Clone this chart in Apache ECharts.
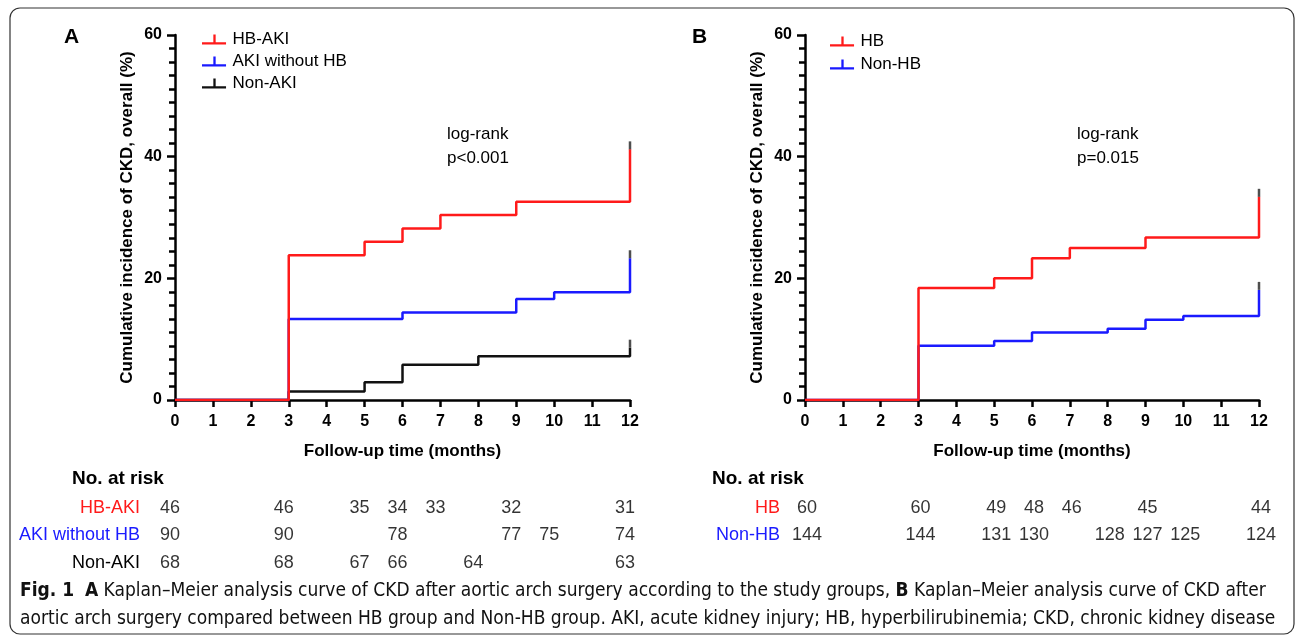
<!DOCTYPE html>
<html>
<head>
<meta charset="utf-8">
<script src="https://cdn.jsdelivr.net/npm/echarts@6/dist/echarts.min.js"></script>
<style>
html,body{margin:0;padding:0;background:#fff;}
#chart{width:1298px;height:636px;}
</style>
</head>
<body>
<div id="chart"></div>
<script>
// ---------- Data ----------
const xTicks = [0,1,2,3,4,5,6,7,8,9,10,11,12];
const yTicks = [0,20,40,60];

// Panel A curves (time in months, cumulative incidence %)
const hbAkiTime = [0,3,5,6,7,9,12];
const hbAkiVal  = [0,23.8,26.0,28.2,30.4,32.6,41.2];
const akiNoHbTime = [0,3,6,9,10,12];
const akiNoHbVal  = [0,13.3,14.4,16.6,17.7,23.3];
const nonAkiTime = [0,3,5,6,8,12];
const nonAkiVal  = [0,1.4,2.9,5.8,7.2,8.6];

// Panel B curves
const hbTime = [0,3,5,6,7,9,12];
const hbVal  = [0,18.4,20.0,23.3,25.0,26.7,33.4];
const nonHbTime = [0,3,5,6,8,9,10,12];
const nonHbVal  = [0,8.9,9.7,11.1,11.7,13.2,13.8,18.1];

// Numbers at risk
const riskHbAkiTime = [0,3,5,6,7,9,12];
const riskHbAki     = [46,46,35,34,33,32,31];
const riskAkiNoHbTime = [0,3,6,9,10,12];
const riskAkiNoHb     = [90,90,78,77,75,74];
const riskNonAkiTime = [0,3,5,6,8,12];
const riskNonAki     = [68,68,67,66,64,63];
const riskHbTime = [0,3,5,6,7,9,12];
const riskHb     = [60,60,49,48,46,45,44];
const riskNonHbTime = [0,3,5,6,8,9,10,12];
const riskNonHb     = [144,144,131,130,128,127,125,124];

const namesA = ['HB-AKI','AKI without HB','Non-AKI'];
const namesB = ['HB','Non-HB'];
// ---------- End data ----------

const RED = '#ff1a1a', BLUE = '#1a1aff', BLACK = '#111111';
const FONT = '"Liberation Sans", Arial, sans-serif';
const CAPFONT = '"DejaVu Sans Condensed", "Liberation Sans Narrow", sans-serif';
const zip = (t, v) => t.map((x, i) => [x, v[i]]);
const last = (t, v) => [[t[t.length-1], v[v.length-1]]];
const risk = (t, v, row) => t.map((x, i) => [x, row, v[i]]);

const chart = echarts.init(document.getElementById('chart'), null, {renderer: 'canvas'});

function xAxisCfg(gi) {
  return {
    gridIndex: gi, type: 'value', min: 0, max: 12, interval: 1,
    name: 'Follow-up time (months)', nameLocation: 'middle', nameGap: 43,
    nameTextStyle: {fontFamily: FONT, fontWeight: 'bold', fontSize: 17, color: '#000'},
    axisLine: {onZero: false, lineStyle: {color: '#000', width: 2.5}},
    axisTick: {inside: false, length: 7, lineStyle: {color: '#000', width: 2.5}},
    axisLabel: {fontFamily: FONT, fontWeight: 'bold', fontSize: 16, color: '#000', margin: 14,
      formatter: v => xTicks.includes(v) ? String(v) : ''},
    splitLine: {show: false}
  };
}
function yAxisCfg(gi) {
  return {
    gridIndex: gi, type: 'value', min: 0, max: 60, interval: 20,
    name: 'Cumulative incidence of CKD, overall (%)', nameLocation: 'middle', nameGap: 39,
    nameTextStyle: {fontFamily: FONT, fontWeight: 'bold', fontSize: 17, color: '#000'},
    axisLine: {lineStyle: {color: '#000', width: 2.5}},
    axisTick: {inside: false, length: 8, lineStyle: {color: '#000', width: 2.5}},
    minorTick: {show: true, splitNumber: 9, length: 6, lineStyle: {color: '#000', width: 2.5}},
    axisLabel: {fontFamily: FONT, fontWeight: 'bold', fontSize: 16, color: '#000', margin: 13,
      formatter: v => yTicks.includes(v) ? String(v) : ''},
    splitLine: {show: false}
  };
}
function riskX(gi) {
  return {gridIndex: gi, type: 'value', min: 0, max: 12, show: false};
}
function riskY(gi, names, colors, margin) {
  return {
    gridIndex: gi, type: 'category', data: names, inverse: true,
    axisLine: {show: false}, axisTick: {show: false}, splitLine: {show: false},
    axisLabel: {margin: margin, fontFamily: FONT, fontSize: 18, color: (val) => colors[names.indexOf(val)] }
  };
}
function curve(name, t, v, color, xi, yi) {
  return {name, type: 'line', step: 'end', xAxisIndex: xi, yAxisIndex: yi,
    data: zip(t, v), symbol: 'none', color: color,
    lineStyle: {color: color, width: 2.5}, z: 3};
}
function censor(t, v, xi, yi) {
  return {type: 'scatter', xAxisIndex: xi, yAxisIndex: yi, data: last(t, v),
    symbol: 'rect', symbolSize: [2.5, 8], symbolOffset: [0, -4],
    itemStyle: {color: '#222'}, silent: true, z: 4};
}
function riskSeries(t, v, row, xi, yi) {
  return {type: 'scatter', xAxisIndex: xi, yAxisIndex: yi, data: risk(t, v, row),
    symbolSize: 0, silent: true,
    label: {show: true, position: 'inside', formatter: p => String(p.value[2]),
      fontFamily: FONT, fontSize: 18, color: '#000'}};
}
const tickIcon = 'path://M0,8h25v2.4h-25z M11.8,0h2.4v9h-2.4z';

const option = {
  animation: false,
  backgroundColor: '#fff',
  grid: [
    {left: 175, top: 35, width: 455, height: 365},
    {left: 805, top: 35, width: 454, height: 365},
    {left: 170, top: 494, width: 455, height: 83},
    {left: 807, top: 494, width: 454, height: 55}
  ],
  xAxis: [xAxisCfg(0), xAxisCfg(1), riskX(2), riskX(3)],
  yAxis: [yAxisCfg(0), yAxisCfg(1),
    riskY(2, namesA, [RED, BLUE, '#000'], 30),
    riskY(3, namesB, [RED, BLUE], 27)],
  legend: [
    {data: namesA, orient: 'vertical', left: 197, top: 26, itemWidth: 25, itemHeight: 10, itemGap: 5,
     icon: tickIcon, textStyle: {fontFamily: FONT, fontSize: 17, color: '#000', lineHeight: 17, padding: [0,0,0,1]}},
    {data: namesB, orient: 'vertical', left: 825, top: 28, itemWidth: 25, itemHeight: 10, itemGap: 6,
     icon: tickIcon, textStyle: {fontFamily: FONT, fontSize: 17, color: '#000', lineHeight: 17, padding: [0,0,0,1]}}
  ],
  series: [
    curve('Non-AKI', nonAkiTime, nonAkiVal, BLACK, 0, 0),
    curve('AKI without HB', akiNoHbTime, akiNoHbVal, BLUE, 0, 0),
    curve('HB-AKI', hbAkiTime, hbAkiVal, RED, 0, 0),
    censor(nonAkiTime, nonAkiVal, 0, 0),
    censor(akiNoHbTime, akiNoHbVal, 0, 0),
    censor(hbAkiTime, hbAkiVal, 0, 0),
    curve('Non-HB', nonHbTime, nonHbVal, BLUE, 1, 1),
    curve('HB', hbTime, hbVal, RED, 1, 1),
    censor(nonHbTime, nonHbVal, 1, 1),
    censor(hbTime, hbVal, 1, 1),
    riskSeries(riskHbAkiTime, riskHbAki, 'HB-AKI', 2, 2),
    riskSeries(riskAkiNoHbTime, riskAkiNoHb, 'AKI without HB', 2, 2),
    riskSeries(riskNonAkiTime, riskNonAki, 'Non-AKI', 2, 2),
    riskSeries(riskHbTime, riskHb, 'HB', 3, 3),
    riskSeries(riskNonHbTime, riskNonHb, 'Non-HB', 3, 3)
  ],
  graphic: [
    {type: 'rect', shape: {x: 10, y: 8, width: 1284, height: 626, r: 10}, silent: true, z: -1,
     style: {fill: 'none', stroke: '#333', lineWidth: 1.2}},
    {type: 'text', left: 64, top: 27, style: {text: 'A', font: 'bold 21px ' + FONT, fill: '#000'}},
    {type: 'text', left: 692, top: 27, style: {text: 'B', font: 'bold 21px ' + FONT, fill: '#000'}},
    {type: 'text', left: 447, top: 122, style: {text: 'log-rank\np<0.001', font: '17px ' + FONT, lineHeight: 24, fill: '#000'}},
    {type: 'text', left: 1077, top: 122, style: {text: 'log-rank\np=0.015', font: '17px ' + FONT, lineHeight: 24, fill: '#000'}},
    {type: 'text', left: 72, top: 469, style: {text: 'No. at risk', font: 'bold 19px ' + FONT, fill: '#000'}},
    {type: 'text', left: 712, top: 469, style: {text: 'No. at risk', font: 'bold 19px ' + FONT, fill: '#000'}},
    {type: 'text', left: 20, top: 577, style: {
      text: '{b|Fig. 1}  {b|A} Kaplan\u2013Meier analysis curve of CKD after aortic arch surgery according to the study groups, {b|B} Kaplan\u2013Meier analysis curve of CKD after\naortic arch surgery compared between HB group and Non-HB group. AKI, acute kidney injury; HB, hyperbilirubinemia; CKD, chronic kidney disease',
      font: '19px ' + CAPFONT, fill: '#111', lineHeight: 28,
      rich: {b: {font: 'bold 19px ' + CAPFONT, fill: '#111', lineHeight: 28}}
    }}
  ]
};
chart.setOption(option);
</script>
</body>
</html>
